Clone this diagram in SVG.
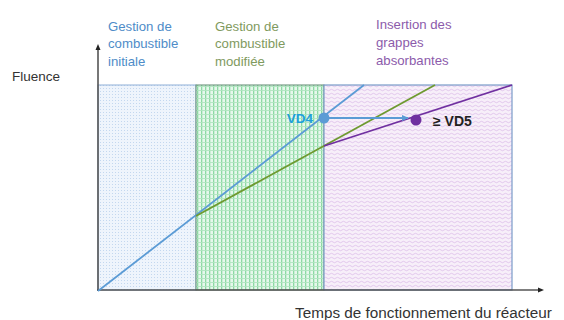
<svg xmlns="http://www.w3.org/2000/svg" width="564" height="320" viewBox="0 0 564 320">
<defs>
<pattern id="pBlue" width="3" height="3" patternUnits="userSpaceOnUse">
<rect width="3" height="3" fill="#eef4fc"/>
<rect x="1" y="1" width="1" height="1" fill="#c3d7ef"/>
</pattern>
<pattern id="pGreen" width="4" height="4" patternUnits="userSpaceOnUse">
<rect width="4" height="4" fill="#e6f8ec"/>
<rect x="1" y="0" width="1.3" height="4" fill="#8dd9a4"/>
<rect x="0" y="2" width="4" height="0.9" fill="#b0e6c0"/>
</pattern>
<pattern id="pPurple" width="6" height="4" patternUnits="userSpaceOnUse">
<rect width="6" height="4" fill="#f7eff9"/>
<path d="M0 2 Q1.5 0.5 3 2 T6 2" fill="none" stroke="#dcbde8" stroke-width="0.8"/>
</pattern>
<marker id="axArrow" markerWidth="6" markerHeight="6" refX="3" refY="3" orient="auto" markerUnits="userSpaceOnUse">
<path d="M0 0.5 L6 3 L0 5.5 Z" fill="#222"/>
</marker>
<marker id="blueArrow" markerWidth="8" markerHeight="8" refX="6" refY="4" orient="auto" markerUnits="userSpaceOnUse">
<path d="M0 1 L7 4 L0 7 Z" fill="#5b9bd5"/>
</marker>
<style>
text{font-family:"Liberation Sans",Arial,sans-serif}
.lab{font-size:13.2px}
.blue{fill:#4e8cc8}
.green{fill:#7f9a5e}
.purple{fill:#8c5bab}
.axis{stroke:#555;stroke-width:1.6;fill:none}
.dark{fill:#333}
</style>
</defs>

<g id="region-initiale">
<rect x="98" y="85" width="98" height="205" fill="url(#pBlue)" stroke="#8fb0d8" stroke-width="1"/>
</g>
<g id="region-modifiee">
<rect x="196" y="85" width="128" height="205" fill="url(#pGreen)" stroke="#5e8a70" stroke-width="1"/>
</g>
<g id="region-grappes">
<rect x="324" y="85" width="188" height="205" fill="url(#pPurple)" stroke="#7a9cc8" stroke-width="1.2"/>
</g>

<g id="axes">
<line class="axis" x1="98" y1="291" x2="98" y2="47" marker-end="url(#axArrow)"/>
<line class="axis" x1="97" y1="290" x2="541" y2="290" marker-end="url(#axArrow)"/>
</g>

<g id="connectors">
<line x1="98" y1="291" x2="364" y2="85" stroke="#5b9bd5" stroke-width="1.8"/>
<line x1="196" y1="216" x2="435" y2="85" stroke="#6e9a30" stroke-width="1.8"/>
<line x1="324" y1="146" x2="512" y2="85" stroke="#7030a0" stroke-width="1.8"/>
<line x1="324" y1="118" x2="408" y2="118" stroke="#5b9bd5" stroke-width="2" marker-end="url(#blueArrow)"/>
</g>

<g id="vd4">
<circle cx="324" cy="118" r="5.5" fill="#5b9bd5"/>
<text x="313" y="123" text-anchor="end" font-size="13.5" font-weight="bold" fill="#1ea0da">VD4</text>
</g>
<g id="vd5">
<circle cx="416" cy="120" r="5.5" fill="#7030a0"/>
<text x="433" y="126" font-size="14" font-weight="bold" fill="#222">≥ VD5</text>
</g>

<g id="label-initiale">
<text class="lab blue" x="108" y="31">Gestion de</text>
<text class="lab blue" x="108" y="48">combustible</text>
<text class="lab blue" x="108" y="66">initiale</text>
</g>
<g id="label-modifiee">
<text class="lab green" x="215" y="31">Gestion de</text>
<text class="lab green" x="215" y="48">combustible</text>
<text class="lab green" x="215" y="66">modifiée</text>
</g>
<g id="label-grappes">
<text class="lab purple" x="376" y="29">Insertion des</text>
<text class="lab purple" x="376" y="47">grappes</text>
<text class="lab purple" x="376" y="65">absorbantes</text>
</g>

<g id="axis-labels">
<text class="dark" x="12" y="81" font-size="13.5">Fluence</text>
<text class="dark" x="295" y="318" font-size="15.3">Temps de fonctionnement du réacteur</text>
</g>
</svg>
